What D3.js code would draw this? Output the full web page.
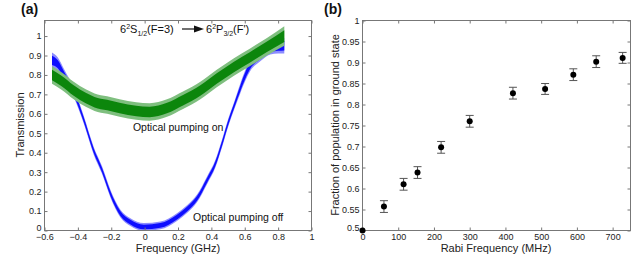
<!DOCTYPE html>
<html>
<head>
<meta charset="utf-8">
<script src="https://cdn.jsdelivr.net/npm/d3@7"></script>
<style>
  body { margin: 0; background: #fff; }
  svg { display: block; font-family: "Liberation Sans", Arial, sans-serif; }
  .tick text { fill: #222; font-size: 9px; }
  .frame { fill: none; stroke: #777; stroke-width: 1; }
</style>
</head>
<body>
<div id="chart"></div>
<script>
// panel (a): transmission traces (centre of the noisy band + half width)
const offFreq = [-0.555, -0.52, -0.48, -0.425, -0.365, -0.305, -0.255, -0.205, -0.145, -0.085, -0.005, 0.094, 0.194, 0.254, 0.314, 0.374, 0.424, 0.464, 0.503, 0.54, 0.573, 0.633, 0.693, 0.753, 0.80, 0.837];
const offTrans = [0.875, 0.855, 0.795, 0.71, 0.57, 0.41, 0.31, 0.19, 0.087, 0.043, 0.018, 0.026, 0.069, 0.11, 0.165, 0.258, 0.344, 0.448, 0.56, 0.65, 0.73, 0.85, 0.90, 0.935, 0.945, 0.95];
const offSpread = [0.04, 0.035, 0.03, 0.025, 0.02, 0.02, 0.02, 0.02, 0.02, 0.02, 0.02, 0.02, 0.02, 0.02, 0.02, 0.02, 0.02, 0.02, 0.02, 0.02, 0.025, 0.03, 0.03, 0.03, 0.035, 0.04];

const onFreq = [-0.555, -0.5, -0.425, -0.35, -0.3, -0.225, -0.15, -0.05, 0.03, 0.134, 0.23, 0.334, 0.43, 0.533, 0.63, 0.733, 0.837];
const onTrans = [0.80, 0.77, 0.72, 0.68, 0.66, 0.645, 0.63, 0.615, 0.61, 0.63, 0.67, 0.72, 0.78, 0.84, 0.89, 0.945, 1.0];
const onSpread = [0.045, 0.045, 0.045, 0.045, 0.045, 0.045, 0.045, 0.045, 0.045, 0.045, 0.045, 0.045, 0.045, 0.045, 0.045, 0.045, 0.05];

const aXTicks = [-0.6, -0.4, -0.2, 0, 0.2, 0.4, 0.6, 0.8, 1];
const aYTicks = [0, 0.1, 0.2, 0.3, 0.4, 0.5, 0.6, 0.7, 0.8, 0.9, 1];

// panel (b): ground state fraction vs Rabi frequency
const rabi = [0, 60, 115, 154, 220, 300, 421, 511, 590, 654, 728];
const fraction = [0.5, 0.557, 0.61, 0.638, 0.698, 0.76, 0.827, 0.837, 0.871, 0.902, 0.911];
const fracErr = [0, 0.014, 0.014, 0.014, 0.014, 0.014, 0.014, 0.013, 0.014, 0.014, 0.013];

const bXTicks = [0, 100, 200, 300, 400, 500, 600, 700];
const bYTicks = [0.5, 0.55, 0.6, 0.65, 0.7, 0.75, 0.8, 0.85, 0.9, 0.95, 1];

const W = 644, H = 259;
const svg = d3.select("#chart").append("svg").attr("width", W).attr("height", H);

function frame(g, x, y, xt, yt, xfmt, yfmt) {
  const [x0, x1] = x.range(), [y0, y1] = y.range();
  g.append("g").attr("transform", `translate(0,${y0})`)
    .call(d3.axisBottom(x).tickValues(xt).tickSize(-3).tickPadding(3).tickFormat(xfmt));
  g.append("g").attr("transform", `translate(0,${y1})`)
    .call(d3.axisTop(x).tickValues(xt).tickSize(-3).tickFormat(""));
  const yl = g.append("g").attr("transform", `translate(${x0},0)`)
    .call(d3.axisLeft(y).tickValues(yt).tickSize(-3).tickPadding(3).tickFormat(yfmt));
  // lowest y label sits a little higher, as in the original
  yl.select(".tick text").attr("dy", "0.05em");
  g.append("g").attr("transform", `translate(${x1},0)`)
    .call(d3.axisRight(y).tickValues(yt).tickSize(-3).tickFormat(""));
  g.selectAll(".domain").remove();
  g.selectAll(".tick line").attr("stroke", "#777");
  g.append("rect").attr("class", "frame")
    .attr("x", x0).attr("y", y1).attr("width", x1 - x0).attr("height", y0 - y1);
}

const numFmt = d => String(+d.toFixed(2)).replace("-", "\u2212");

// ---------- panel (a)
const xa = d3.scaleLinear().domain([-0.6, 1]).range([44.5, 311.5]);
const ya = d3.scaleLinear().domain([0, 1.08]).range([230.5, 20.5]);
const ga = svg.append("g");

function trace(freq, val, spread, color, light) {
  const pts = freq.map((f, i) => ({ f, v: val[i], s: spread[i] }));
  ga.append("path").datum(pts)
    .attr("fill", light)
    .attr("d", d3.area().x(d => xa(d.f)).y0(d => ya(d.v - d.s)).y1(d => ya(d.v + d.s)).curve(d3.curveMonotoneX));
  ga.append("path").datum(pts)
    .attr("fill", color).attr("opacity", 0.9)
    .attr("d", d3.area().x(d => xa(d.f)).y0(d => ya(d.v - d.s * 0.6)).y1(d => ya(d.v + d.s * 0.6)).curve(d3.curveMonotoneX));
}
trace(offFreq, offTrans, offSpread, "#0000ff", "#8c8cff");
trace(onFreq, onTrans, onSpread, "#008000", "#7fbf7f");

frame(ga, xa, ya, aXTicks, aYTicks, numFmt, numFmt);

ga.append("text").attr("x", 178).attr("y", 252).attr("text-anchor", "middle")
  .attr("font-size", 11).attr("fill", "#222").text("Frequency (GHz)");
ga.append("text").attr("transform", "translate(24,125) rotate(-90)").attr("text-anchor", "middle")
  .attr("font-size", 11).attr("fill", "#222").text("Transmission");

ga.append("text").attr("x", xa(-0.07)).attr("y", 131).attr("font-size", 10.5).attr("fill", "#111")
  .text("Optical pumping on");
ga.append("text").attr("x", xa(0.29)).attr("y", 221).attr("font-size", 10.5).attr("fill", "#111")
  .text("Optical pumping off");

// transition label
const lab = ga.append("text").attr("x", 120).attr("y", 33).attr("font-size", 11).attr("fill", "#111");
lab.append("tspan").text("6");
lab.append("tspan").attr("font-size", 7).attr("dy", -4).text("2");
lab.append("tspan").attr("dy", 4).text("S");
lab.append("tspan").attr("font-size", 7).attr("dy", 3).text("1/2");
lab.append("tspan").attr("dy", -3).text("(F=3)");
ga.append("line").attr("x1", 182).attr("x2", 195).attr("y1", 29).attr("y2", 29).attr("stroke", "#111").attr("stroke-width", 1.2);
ga.append("path").attr("d", "M194,25.5 L204,29 L194,32.5 Z").attr("fill", "#111");
const lab2 = ga.append("text").attr("x", 206).attr("y", 33).attr("font-size", 11).attr("fill", "#111");
lab2.append("tspan").text("6");
lab2.append("tspan").attr("font-size", 7).attr("dy", -4).text("2");
lab2.append("tspan").attr("dy", 4).text("P");
lab2.append("tspan").attr("font-size", 7).attr("dy", 3).text("3/2");
lab2.append("tspan").attr("dy", -3).text("(F')");

svg.append("text").attr("x", 21).attr("y", 14).attr("font-size", 14).attr("font-weight", "bold")
  .attr("fill", "#111").text("(a)");

// ---------- panel (b)
const xb = d3.scaleLinear().domain([0, 750]).range([362.5, 630.5]);
const yb = d3.scaleLinear().domain([0.5, 1]).range([230.5, 20.5]);
const gb = svg.append("g");

frame(gb, xb, yb, bXTicks, bYTicks, d => d, numFmt);

const pts = rabi.map((r, i) => ({ r, v: fraction[i], e: fracErr[i] }));
const eb = gb.selectAll(".err").data(pts.filter(d => d.e > 0)).enter().append("g")
  .attr("stroke", "#555").attr("stroke-width", 1);
eb.append("line").attr("x1", d => xb(d.r)).attr("x2", d => xb(d.r))
  .attr("y1", d => yb(d.v - d.e)).attr("y2", d => yb(d.v + d.e));
eb.append("line").attr("x1", d => xb(d.r) - 4).attr("x2", d => xb(d.r) + 4)
  .attr("y1", d => yb(d.v - d.e)).attr("y2", d => yb(d.v - d.e));
eb.append("line").attr("x1", d => xb(d.r) - 4).attr("x2", d => xb(d.r) + 4)
  .attr("y1", d => yb(d.v + d.e)).attr("y2", d => yb(d.v + d.e));
gb.selectAll(".dot").data(pts).enter().append("circle")
  .attr("cx", d => xb(d.r)).attr("cy", d => yb(d.v)).attr("r", 3).attr("fill", "#000");

gb.append("text").attr("x", 496).attr("y", 252).attr("text-anchor", "middle")
  .attr("font-size", 11).attr("fill", "#222").text("Rabi Frequency (MHz)");
gb.append("text").attr("transform", "translate(339,125) rotate(-90)").attr("text-anchor", "middle")
  .attr("font-size", 11).attr("fill", "#222").text("Fraction of population in ground state");

svg.append("text").attr("x", 324).attr("y", 14).attr("font-size", 14).attr("font-weight", "bold")
  .attr("fill", "#111").text("(b)");
</script>
</body>
</html>
